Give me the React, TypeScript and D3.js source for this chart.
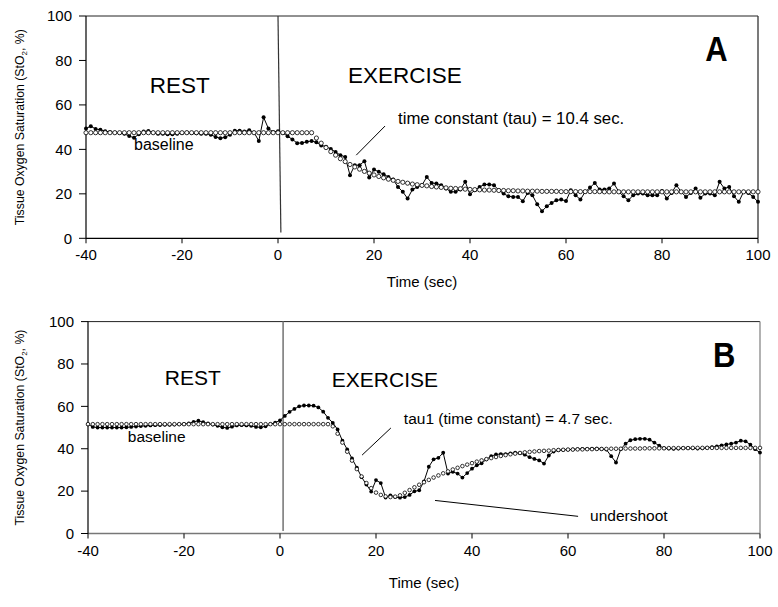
import React from "react";
import * as d3 from "d3";

// ---------- data ----------
const T_START = -40; // seconds, first sample
const T_STEP = 1; // seconds between samples
const X_TICKS = [-40, -20, 0, 20, 40, 60, 80, 100];
const Y_TICKS = [0, 20, 40, 60, 80, 100];

const A_MEASURED = [
  49.4, 50.4, 49.2, 48.8, 48.2, 47.8, 47.6, 47.4, 47.0, 46.0,
  45.2, 46.8, 48.0, 48.3, 47.6, 47.0, 47.0, 46.8, 46.8, 47.0,
  47.4, 47.6, 47.4, 47.2, 47.0, 47.0, 46.6, 45.6, 45.0, 45.5,
  46.6, 48.4, 48.4, 48.0, 48.6, 47.6, 43.8, 54.4, 49.4, 47.8,
  48.2, 47.4, 45.9, 44.5, 42.8, 42.9, 43.4, 43.8, 43.2, 41.8,
  41.2, 40.2, 38.8, 37.4, 36.6, 28.4, 32.9, 32.9, 34.7, 27.3,
  30.9, 29.9, 28.8, 27.6, 26.4, 23.1, 20.9, 17.9, 21.9, 23.1,
  23.9, 27.6, 24.9, 24.6, 23.9, 22.4, 20.9, 20.9, 21.9, 25.4,
  19.8, 21.6, 23.1, 24.2, 24.2, 23.9, 21.6, 20.1, 18.9, 18.6,
  18.6, 16.7, 20.4, 19.4, 15.3, 12.2, 14.4, 15.9, 17.1, 17.4,
  16.8, 21.6, 19.4, 17.4, 20.9, 22.8, 24.9, 21.9, 21.9, 22.4,
  24.6, 20.9, 18.9, 17.1, 19.4, 20.1, 20.1, 19.4, 19.4, 19.4,
  21.3, 17.9, 20.4, 23.9, 20.9, 18.6, 20.4, 22.4, 18.2, 20.1,
  20.1, 19.4, 25.4, 22.4, 23.1, 18.9, 16.4, 20.9, 20.4, 18.6,
  16.4,
];

const A_FIT = [
  47.5, 47.5, 47.5, 47.5, 47.5, 47.5, 47.5, 47.5, 47.5, 47.5,
  47.5, 47.5, 47.5, 47.5, 47.5, 47.5, 47.5, 47.5, 47.5, 47.5,
  47.5, 47.5, 47.5, 47.5, 47.5, 47.5, 47.5, 47.5, 47.5, 47.5,
  47.5, 47.5, 47.5, 47.5, 47.5, 47.5, 47.5, 47.5, 47.5, 47.5,
  47.5, 47.5, 47.5, 47.5, 47.5, 47.5, 47.5, 47.5, 45.1, 42.8,
  40.8, 39.0, 37.4, 35.8, 34.5, 33.2, 32.1, 31.1, 30.1, 29.3,
  28.5, 27.8, 27.2, 26.6, 26.1, 25.6, 25.2, 24.8, 24.4, 24.1,
  23.8, 23.6, 23.3, 23.1, 22.9, 22.7, 22.5, 22.4, 22.3, 22.1,
  22.0, 21.9, 21.8, 21.7, 21.7, 21.6, 21.5, 21.5, 21.4, 21.4,
  21.3, 21.3, 21.2, 21.2, 21.2, 21.1, 21.1, 21.1, 21.1, 21.0,
  21.0, 21.0, 21.0, 21.0, 21.0, 21.0, 21.0, 21.0, 20.9, 20.9,
  20.9, 20.9, 20.9, 20.9, 20.9, 20.9, 20.9, 20.9, 20.9, 20.9,
  20.9, 20.9, 20.9, 20.9, 20.9, 20.9, 20.9, 20.9, 20.9, 20.9,
  20.9, 20.9, 20.9, 20.9, 20.9, 20.9, 20.9, 20.9, 20.9, 20.9,
  20.9,
];

const B_MEASURED = [
  51.5, 50.3, 50.0, 50.0, 50.0, 50.0, 50.0, 50.0, 50.1, 50.3,
  50.5, 50.7, 50.8, 51.0, 51.1, 51.2, 51.3, 51.3, 51.4, 51.5,
  51.6, 51.9, 52.7, 53.2, 52.5, 51.9, 51.4, 50.8, 50.1, 49.8,
  50.4, 51.0, 51.1, 51.0, 50.8, 50.3, 50.1, 50.6, 51.6, 52.3,
  53.4, 55.5, 57.4, 58.8, 60.0, 60.4, 60.4, 60.3, 59.5, 57.5,
  54.6, 52.2, 49.1, 43.8, 39.7, 35.4, 31.1, 26.6, 23.1, 19.8,
  25.2, 23.8, 17.0, 18.0, 17.2, 16.9, 17.2, 18.2, 19.9, 20.4,
  24.6, 31.5, 35.0, 35.7, 38.1, 28.3, 29.1, 28.3, 26.4, 28.5,
  30.6, 32.2, 33.1, 35.0, 36.5, 37.3, 37.5, 37.5, 37.8, 38.1,
  37.9, 37.2, 36.0, 35.2, 34.5, 33.0, 36.8, 38.7, 39.3, 39.5,
  39.6, 39.7, 39.8, 39.9, 39.9, 40.0, 40.0, 39.9, 39.6, 36.5,
  33.5, 39.8, 42.4, 44.0, 44.5, 44.7, 44.7, 44.3, 42.9, 41.4,
  40.3, 40.1, 40.0, 40.1, 40.3, 40.3, 40.2, 40.1, 40.2, 40.5,
  40.8, 41.1, 41.6, 42.0, 42.4, 42.9, 43.8, 43.5, 41.9, 39.8,
  38.2,
];

const B_FIT = [
  51.6, 51.6, 51.6, 51.6, 51.6, 51.6, 51.6, 51.6, 51.6, 51.6,
  51.6, 51.6, 51.6, 51.6, 51.6, 51.6, 51.6, 51.6, 51.6, 51.6,
  51.6, 51.6, 51.6, 51.6, 51.6, 51.6, 51.6, 51.6, 51.6, 51.6,
  51.6, 51.6, 51.6, 51.6, 51.6, 51.6, 51.6, 51.6, 51.6, 51.6,
  51.6, 51.6, 51.6, 51.6, 51.6, 51.6, 51.6, 51.6, 51.6, 51.6,
  51.6, 50.6, 47.1, 42.9, 38.6, 34.4, 30.4, 26.9, 23.8, 21.4,
  19.3, 18.2, 17.5, 17.2, 17.4, 18.0, 19.2, 20.5, 21.8, 23.0,
  24.2, 25.3, 26.4, 27.4, 28.4, 29.3, 30.2, 31.0, 31.8, 32.5,
  33.2, 33.9, 34.5, 35.1, 35.6, 36.1, 36.6, 37.0, 37.4, 37.7,
  38.0, 38.3, 38.5, 38.7, 38.9, 39.0, 39.1, 39.3, 39.4, 39.5,
  39.6, 39.6, 39.7, 39.7, 39.8, 39.8, 39.9, 39.9, 39.9, 40.0,
  40.0, 40.0, 40.1, 40.1, 40.1, 40.1, 40.2, 40.2, 40.2, 40.2,
  40.2, 40.3, 40.3, 40.3, 40.3, 40.3, 40.4, 40.4, 40.4, 40.4,
  40.4, 40.4, 40.4, 40.4, 40.4, 40.4, 40.4, 40.4, 40.4, 40.4,
  40.4,
];

// annotation anchors in data units (t sec, value %)
const A_TEXTS = [
  { t: -26.7, v: 65.3, text: "REST", size: 22.5 },
  { t: 14.6, v: 69.8, text: "EXERCISE", size: 22.5 },
  { t: 25.0, v: 51.4, text: "time constant (tau) = 10.4 sec.", size: 16.8 },
  { t: -30.0, v: 39.6, text: "baseline", size: 16 },
];
const A_LEADERS = [{ t1: 22.3, v1: 50.5, t2: 16.3, v2: 37.4 }];
const A_ONSET = { t1: 0, v1: 100, t2: 0.6, v2: 2.6 };
const A_LETTER = { t: 89.0, v: 79.7, text: "A" };

const B_TEXTS = [
  { t: -24.0, v: 70.1, text: "REST", size: 21 },
  { t: 10.8, v: 69.2, text: "EXERCISE", size: 21 },
  { t: 25.8, v: 51.7, text: "tau1 (time constant) = 4.7 sec.", size: 15.5 },
  { t: -31.7, v: 43.1, text: "baseline", size: 15.5 },
  { t: 64.6, v: 5.7, text: "undershoot", size: 15.5 },
];
const B_LEADERS = [
  { t1: 23.1, v1: 49.8, t2: 17.1, v2: 37.0 },
  { t1: 32.3, v1: 15.6, t2: 62.1, v2: 8.1 },
];
const B_ONSET = { t1: 0.65, v1: 100, t2: 0.65, v2: 1.2 };
const B_LETTER = { t: 90.2, v: 78.7, text: "B" };

const FONT = "'Liberation Sans', Arial, Helvetica, sans-serif";

type PanelProps = {
  left: number;
  right: number;
  top: number;
  bottom: number;
  titleOffset: number;
  measured: number[];
  fit: number[];
  texts: { t: number; v: number; text: string; size: number }[];
  leaders: { t1: number; v1: number; t2: number; v2: number }[];
  onset: { t1: number; v1: number; t2: number; v2: number };
  onsetColor: string;
  onsetWidth: number;
  letter: { t: number; v: number; text: string };
  bottomColor: string;
  rightColor: string;
  rFilled: number;
  rOpen: number;
};

function Panel(p: PanelProps) {
  const x = d3.scaleLinear().domain([-40, 100]).range([p.left, p.right]);
  const y = d3.scaleLinear().domain([0, 100]).range([p.bottom, p.top]);
  const meas = p.measured.map((v, i) => ({ t: T_START + i * T_STEP, v }));
  const fit = p.fit.map((v, i) => ({ t: T_START + i * T_STEP, v }));
  const line = d3
    .line<{ t: number; v: number }>()
    .x((d) => x(d.t))
    .y((d) => y(d.v));
  const cy = (p.top + p.bottom) / 2;
  const cx = (p.left + p.right) / 2;
  return (
    <g fontFamily={FONT}>
      {/* frame */}
      <line x1={p.left} x2={p.right} y1={p.top} y2={p.top} stroke="#222" strokeWidth={1} />
      <line x1={p.right} x2={p.right} y1={p.top} y2={p.bottom} stroke={p.rightColor} strokeWidth={1.3} />
      <line x1={p.left} x2={p.right} y1={p.bottom} y2={p.bottom} stroke={p.bottomColor} strokeWidth={1.3} />
      <line x1={p.left} x2={p.left} y1={p.top} y2={p.bottom} stroke="#000" strokeWidth={1.2} />
      {/* y ticks */}
      {Y_TICKS.map((v) => (
        <g key={"y" + v}>
          <line x1={p.left - 7} x2={p.left} y1={y(v)} y2={y(v)} stroke="#000" strokeWidth={1} />
          <text x={p.left - 14} y={y(v)} dy="0.35em" textAnchor="end" fontSize={15} fill="#000">
            {v}
          </text>
        </g>
      ))}
      {/* x ticks */}
      {X_TICKS.map((t) => (
        <g key={"x" + t}>
          <line x1={x(t)} x2={x(t)} y1={p.bottom} y2={p.bottom + 5} stroke="#000" strokeWidth={1} />
          <text x={x(t)} y={p.bottom + 22} textAnchor="middle" fontSize={15} fill="#000">
            {t}
          </text>
        </g>
      ))}
      <text x={cx} y={p.bottom + p.titleOffset} textAnchor="middle" fontSize={15} fill="#000">
        Time (sec)
      </text>
      <text
        transform={`translate(20,${cy}) rotate(-90)`}
        textAnchor="middle"
        dy="0.35em"
        fontSize={12.3}
        fill="#000"
      >
        Tissue Oxygen Saturation (StO
        <tspan fontSize={8} dy="3">2</tspan>
        <tspan dy="-3">, %)</tspan>
      </text>
      {/* onset line */}
      <line
        x1={x(p.onset.t1)}
        y1={y(p.onset.v1)}
        x2={x(p.onset.t2)}
        y2={y(p.onset.v2)}
        stroke={p.onsetColor}
        strokeWidth={p.onsetWidth}
      />
      {/* measured line */}
      <path d={line(meas) || ""} fill="none" stroke="#000" strokeWidth={1} />
      {meas.map((d, i) => (
        <circle key={"m" + i} cx={x(d.t)} cy={y(d.v)} r={p.rFilled} fill="#000" />
      ))}
      {fit.map((d, i) => (
        <circle key={"f" + i} cx={x(d.t)} cy={y(d.v)} r={p.rOpen} fill="#fff" stroke="#000" strokeWidth={0.8} />
      ))}
      {/* annotations */}
      {p.leaders.map((l, i) => (
        <line key={"l" + i} x1={x(l.t1)} y1={y(l.v1)} x2={x(l.t2)} y2={y(l.v2)} stroke="#000" strokeWidth={1} />
      ))}
      {p.texts.map((tx, i) => (
        <text key={"t" + i} x={x(tx.t)} y={y(tx.v)} fontSize={tx.size} fill="#000">
          {tx.text}
        </text>
      ))}
      <text
        transform={`translate(${x(p.letter.t)},${y(p.letter.v)}) scale(1,1.12)`}
        fontSize={31}
        fontWeight="bold"
        fill="#000"
      >
        {p.letter.text}
      </text>
    </g>
  );
}

export default function App() {
  return (
    <svg
      width={778}
      height={607}
      style={{ position: "absolute", left: 0, top: 0, background: "#fff" }}
    >
      <rect x={0} y={0} width={778} height={607} fill="#fff" />
      <Panel
        left={86}
        right={758}
        top={16}
        bottom={238.3}
        titleOffset={49}
        measured={A_MEASURED}
        fit={A_FIT}
        texts={A_TEXTS}
        leaders={A_LEADERS}
        onset={A_ONSET}
        onsetColor="#333"
        onsetWidth={1.2}
        letter={A_LETTER}
        bottomColor="#000"
        rightColor="#333"
        rFilled={2}
        rOpen={2.1}
      />
      <Panel
        left={88}
        right={760}
        top={321.6}
        bottom={533.5}
        titleOffset={54}
        measured={B_MEASURED}
        fit={B_FIT}
        texts={B_TEXTS}
        leaders={B_LEADERS}
        onset={B_ONSET}
        onsetColor="#888"
        onsetWidth={1.8}
        letter={B_LETTER}
        bottomColor="#777"
        rightColor="#888"
        rFilled={1.9}
        rOpen={1.8}
      />
    </svg>
  );
}
